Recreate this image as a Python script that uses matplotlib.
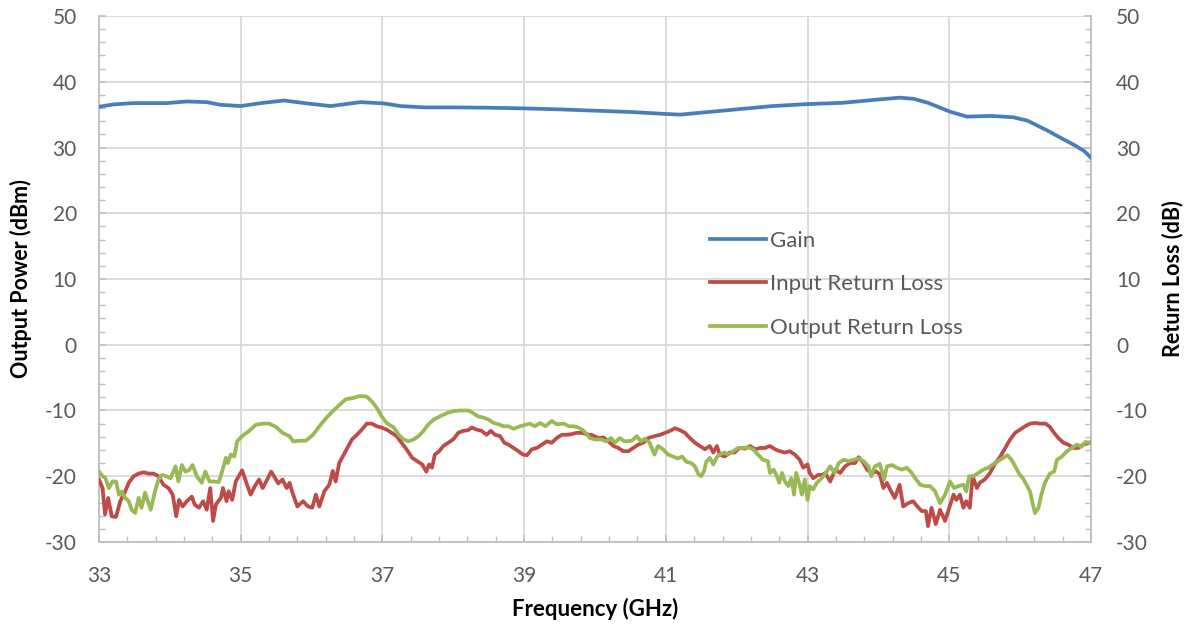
import matplotlib
matplotlib.use("Agg")
import matplotlib.pyplot as plt
import numpy as np
from matplotlib.ticker import FixedLocator, MultipleLocator

plt.rcParams['font.family'] = ['Lato', 'DejaVu Sans']
plt.rcParams['axes.unicode_minus'] = False

# gain trace
gainFreq = [33.0, 33.2, 33.48, 33.95, 34.24, 34.52, 34.71, 35.0, 35.28, 35.61, 35.94, 36.27,
            36.69, 37.02, 37.26, 37.6, 38.0, 38.5, 39.0, 39.5, 40.0, 40.5, 41.0, 41.2, 41.5,
            42.0, 42.5, 43.0, 43.5, 44.0, 44.3, 44.5, 44.7, 45.01, 45.25, 45.6, 45.9, 46.1,
            46.37, 46.55, 46.76, 46.9, 47.0]
gain = [36.2, 36.55, 36.75, 36.75, 37.0, 36.9, 36.5, 36.3, 36.75, 37.15, 36.7, 36.3,
        36.9, 36.7, 36.3, 36.1, 36.1, 36.05, 35.95, 35.8, 35.6, 35.4, 35.1, 35.0, 35.3,
        35.8, 36.3, 36.6, 36.8, 37.3, 37.58, 37.4, 36.8, 35.45, 34.7, 34.8, 34.6, 34.1,
        32.66, 31.6, 30.4, 29.5, 28.45]

# input return loss
irlFreq = [33.0, 33.05, 33.085, 33.13, 33.18, 33.24, 33.30, 33.37, 33.42, 33.49, 33.56, 33.63,
           33.70, 33.77, 33.84, 33.91, 33.98, 34.04, 34.09, 34.13, 34.18, 34.24, 34.31, 34.35,
           34.41, 34.47, 34.52, 34.57, 34.61, 34.65, 34.72, 34.75, 34.80, 34.83, 34.88, 34.93,
           35.02, 35.08, 35.14, 35.20, 35.26, 35.31, 35.35, 35.43, 35.47, 35.53, 35.59, 35.65,
           35.69, 35.73, 35.80, 35.88, 35.95, 36.01, 36.06, 36.11, 36.18, 36.25, 36.30, 36.34,
           36.39, 36.44, 36.48,
           36.57, 36.64, 36.71, 36.78, 36.85, 36.92, 36.99, 37.06, 37.13, 37.20, 37.27, 37.34,
           37.42, 37.49, 37.56, 37.62, 37.66, 37.70, 37.74, 37.80, 37.86, 37.93, 38.00, 38.07,
           38.14, 38.21, 38.26, 38.33, 38.40, 38.47, 38.53, 38.59, 38.66, 38.72, 38.78, 38.85,
           38.92, 38.98, 39.04, 39.11, 39.18, 39.25, 39.32, 39.39, 39.46, 39.53, 39.60, 39.67,
           39.74, 39.81, 39.91,
           39.95, 40.05, 40.12, 40.19, 40.26, 40.33, 40.40, 40.47, 40.54, 40.61, 40.68, 40.75,
           40.84, 40.92, 40.99, 41.06, 41.13, 41.20, 41.27, 41.34, 41.41, 41.48, 41.55, 41.62,
           41.67, 41.72, 41.76, 41.83, 41.90, 41.97, 42.04, 42.12, 42.19, 42.26, 42.33, 42.40,
           42.47, 42.54, 42.61, 42.68, 42.75, 42.82, 42.89, 42.94, 43.0, 43.03, 43.08, 43.15,
           43.21, 43.25, 43.32,
           43.39, 43.46, 43.53, 43.60, 43.67, 43.72, 43.79, 43.84, 43.90, 43.97, 44.02, 44.07,
           44.12, 44.17, 44.23, 44.30, 44.35, 44.42, 44.49, 44.55, 44.61, 44.67, 44.70, 44.75,
           44.81, 44.87, 44.94, 45.0, 45.06, 45.10, 45.15, 45.20, 45.24, 45.29, 45.33, 45.39,
           45.43, 45.50, 45.57, 45.64, 45.72, 45.79, 45.86, 45.93, 46.00, 46.07, 46.14, 46.21,
           46.28, 46.36, 46.42, 46.48, 46.54, 46.61, 46.68, 46.75, 46.82, 46.89, 46.98]
irl = [-20.5, -21.8, -25.8, -23.3, -26.1, -26.2, -23.8, -22.3, -21.0, -20.0, -19.6, -19.4,
       -19.6, -19.6, -20.0, -21.3, -21.8, -22.8, -26.1, -23.6, -24.6, -23.8, -23.1, -24.3,
       -24.8, -23.8, -25.1, -21.8, -26.8, -24.3, -23.3, -21.8, -23.8, -22.3, -23.6, -20.8,
       -19.1, -21.0, -22.8, -21.5, -20.5, -21.8, -21.0, -19.3, -20.0, -21.1, -20.5, -21.8,
       -21.0, -22.5, -24.6, -23.8, -24.6, -24.8, -22.8, -24.6, -22.3, -21.3, -19.2, -20.8,
       -18.0, -17.0, -16.2,
       -14.4, -13.7, -12.9, -12.0, -12.0, -12.4, -12.6, -12.9, -13.4, -13.9, -14.9, -15.9,
       -17.2, -17.7, -18.2, -19.3, -18.2, -18.7, -16.7, -16.2, -15.4, -14.9, -14.4, -13.4,
       -13.1, -13.0, -12.6, -12.9, -13.1, -13.7, -13.1, -13.7, -13.9, -14.9, -15.2, -15.7,
       -16.2, -16.7, -16.8, -15.9, -15.7, -15.2, -14.7, -14.9, -14.2, -13.7, -13.7, -13.6,
       -13.4, -13.4, -13.7,
       -13.7, -14.2, -14.1, -14.7, -15.4, -15.7, -16.2, -16.2, -15.7, -15.2, -14.9, -14.2,
       -13.9, -13.7, -13.4, -13.1, -12.7, -13.0, -13.4, -14.2, -14.9, -15.4, -15.9, -15.4,
       -16.4, -15.4, -16.7, -17.0, -16.4, -16.4, -15.7, -15.8, -15.4, -15.9, -15.7, -15.7,
       -15.4, -15.9, -16.2, -16.4, -16.2, -16.7, -17.5, -18.7, -18.2, -19.5, -20.3, -19.8,
       -19.8, -19.5, -20.8,
       -19.0, -19.5, -18.5, -18.0, -18.0, -17.1, -18.0, -19.0, -19.5, -19.3, -19.7, -21.8,
       -21.0, -22.1, -23.3, -21.3, -24.6, -24.1, -23.8, -24.6, -25.3, -25.3, -27.6, -24.8,
       -27.3, -25.1, -26.8, -24.8, -22.8, -23.6, -22.8, -24.8, -23.8, -24.8, -20.0, -21.8,
       -21.0, -20.5, -19.6, -18.2, -17.0, -15.7, -14.4, -13.4, -12.9, -12.4, -12.0, -11.9,
       -12.0, -12.0, -12.5, -13.4, -14.2, -14.9, -15.2, -15.7, -15.7, -15.2, -14.9]

# output return loss
orlFreq = [33.0, 33.05, 33.09, 33.14, 33.19, 33.24, 33.28, 33.32, 33.37, 33.42, 33.46, 33.51,
           33.56, 33.60, 33.65, 33.70, 33.73, 33.79, 33.84, 33.89, 33.95, 34.01, 34.08, 34.12,
           34.17, 34.22, 34.27, 34.32, 34.38, 34.45, 34.50, 34.56, 34.62, 34.69, 34.74, 34.79,
           34.82, 34.86, 34.91, 34.95, 35.02, 35.12, 35.21, 35.31, 35.40, 35.50, 35.59, 35.69,
           35.74, 35.83, 35.92, 36.02, 36.11, 36.21, 36.30, 36.40, 36.48,
           36.59, 36.68, 36.78, 36.85, 36.92, 36.99, 37.06, 37.16, 37.23, 37.30, 37.37, 37.44,
           37.51, 37.58, 37.65, 37.72, 37.81, 37.91, 38.00, 38.10, 38.21, 38.28, 38.35, 38.43,
           38.50, 38.57, 38.64, 38.71, 38.78, 38.85, 38.94, 39.01, 39.08, 39.15, 39.23, 39.30,
           39.39, 39.46, 39.56, 39.63, 39.70, 39.77, 39.84,
           39.93, 40.0, 40.09, 40.16, 40.23, 40.28, 40.35, 40.42, 40.52, 40.59, 40.65, 40.70,
           40.77, 40.84, 40.89, 40.96, 41.03, 41.10, 41.17, 41.23, 41.29, 41.36, 41.41, 41.46,
           41.50, 41.54, 41.57, 41.62, 41.67, 41.72, 41.76, 41.83, 41.88, 41.95, 42.02, 42.09,
           42.16, 42.23, 42.30, 42.37, 42.44, 42.47, 42.52, 42.56, 42.60, 42.64, 42.68, 42.73,
           42.77, 42.81, 42.84, 42.89, 42.92, 42.96, 43.0, 43.03, 43.08, 43.13, 43.20, 43.27,
           43.32, 43.38, 43.44, 43.51, 43.58, 43.65, 43.72, 43.79, 43.86, 43.90, 43.95, 44.02,
           44.08, 44.12, 44.19, 44.26, 44.33, 44.40, 44.47, 44.52, 44.59, 44.66, 44.73, 44.80,
           44.87, 44.94, 45.01, 45.07, 45.13, 45.20, 45.24, 45.28, 45.34, 45.41, 45.48, 45.55,
           45.62, 45.69, 45.76, 45.82, 45.88, 45.93, 45.99, 46.04, 46.09, 46.14, 46.18, 46.21,
           46.26, 46.30, 46.35, 46.42, 46.48, 46.52, 46.59, 46.66, 46.73, 46.80, 46.87, 46.92,
           46.98]
orl = [-19.3, -20.0, -20.3, -21.8, -20.8, -20.8, -22.8, -22.3, -23.3, -23.8, -25.1, -25.6,
       -23.3, -24.8, -22.5, -24.1, -25.1, -22.3, -20.5, -19.8, -20.0, -20.3, -18.5, -20.8,
       -18.3, -19.3, -19.1, -18.3, -20.0, -21.0, -19.3, -20.8, -20.8, -20.9, -19.2, -17.2,
       -18.0, -16.7, -17.0, -14.7, -13.9, -13.1, -12.2, -12.0, -12.0, -12.5, -13.4, -13.9,
       -14.7, -14.6, -14.6, -13.7, -12.4, -11.1, -10.1, -9.1, -8.3,
       -8.1, -7.8, -7.9, -8.6, -9.6, -10.9, -11.9, -12.6, -13.7, -14.4, -14.7, -14.4,
       -13.9, -13.1, -12.1, -11.4, -10.9, -10.4, -10.1, -10.0, -10.0, -10.4, -10.9, -11.1,
       -11.4, -11.9, -12.1, -12.4, -12.4, -12.8, -12.4, -12.2, -12.0, -12.4, -11.9, -12.4,
       -11.6, -12.1, -12.0, -12.4, -12.4, -12.6, -13.1,
       -14.2, -14.4, -14.4, -14.7, -14.2, -14.9, -14.2, -14.7, -14.6, -13.9, -14.7, -14.3,
       -14.9, -16.7, -15.4, -15.9, -16.7, -17.0, -17.3, -17.0, -17.8, -18.0, -18.5, -19.7,
       -20.0, -19.2, -17.8, -17.2, -18.2, -17.1, -16.7, -16.4, -16.7, -16.2, -15.7, -15.7,
       -15.6, -15.9, -16.7, -17.5, -17.7, -19.5, -19.0, -19.8, -21.0, -19.5, -20.8, -21.5,
       -20.3, -22.8, -19.5, -21.3, -22.8, -20.5, -23.6, -21.5, -22.0, -21.0, -20.3, -19.3,
       -18.5, -19.5, -18.0, -17.5, -17.7, -17.5, -17.3, -17.7, -18.5, -20.0, -18.5, -18.1,
       -20.5, -18.5, -18.3, -18.7, -19.0, -18.7, -19.5, -20.3, -21.3, -21.5, -21.5, -22.3,
       -24.1, -22.8, -20.8, -21.8, -21.5, -21.3, -22.3, -20.0, -20.0, -19.5, -19.0, -18.7,
       -18.2, -17.7, -17.2, -16.8, -17.5, -18.5, -19.7, -20.3, -21.3, -22.3, -24.3, -25.6,
       -24.8, -22.8, -21.0, -19.6, -19.3, -17.5, -17.0, -16.2, -15.7, -15.2, -15.5, -14.8,
       -14.9]

gridColor = "#D9D9D9"
tickColor = "#595959"

fig = plt.figure(figsize=(11.87, 6.28), dpi=100)
ax = fig.add_axes([0.0834, 0.137, 0.8357, 0.8375])

ax.plot(gainFreq, gain, color="#4A7EBB", lw=2.7, label="Gain", zorder=3)
ax.plot(irlFreq, irl, color="#BE4B48", lw=2.7, label="Input Return Loss", zorder=3)
ax.plot(orlFreq, orl, color="#98B954", lw=2.7, label="Output Return Loss", zorder=4)

ax.set_xlim(33, 47)
ax.set_ylim(-30, 50)
ax.xaxis.set_major_locator(FixedLocator(np.arange(33, 47.5, 2)))
ax.xaxis.set_minor_locator(FixedLocator(np.arange(33, 47.01, 0.4)))
ax.yaxis.set_major_locator(MultipleLocator(10))
ax.yaxis.set_minor_locator(MultipleLocator(2))
ax.grid(True, which="major", color=gridColor, lw=1.3, zorder=0)
ax.set_axisbelow(True)

for side in ["left", "right", "bottom"]:
    ax.spines[side].set_color("#BFBFBF")
    ax.spines[side].set_linewidth(1.3)
ax.spines["top"].set_visible(False)

ax.tick_params(which="both", direction="in", color="#BFBFBF", labelcolor=tickColor,
               labelsize=15)
ax.tick_params(which="major", length=5, width=1.2)
ax.tick_params(which="minor", length=4, width=1.0)
ax.tick_params(axis="y", pad=16)
ax.tick_params(axis="x", pad=17)

ax2 = ax.twinx()
ax2.set_ylim(-30, 50)
ax2.yaxis.set_major_locator(MultipleLocator(10))
ax2.yaxis.set_minor_locator(MultipleLocator(2))
for side in ["left", "right", "bottom", "top"]:
    ax2.spines[side].set_visible(False)
ax2.tick_params(which="both", direction="in", color="#BFBFBF", labelcolor=tickColor,
                labelsize=15, pad=18)
ax2.tick_params(which="major", length=5, width=1.2)
ax2.tick_params(which="minor", length=4, width=1.0)

ax.set_xlabel("Frequency (GHz)", fontsize=16, fontweight="bold", labelpad=9)
ax.set_ylabel("Output Power (dBm)", fontsize=15.5, fontweight="bold", labelpad=9)
ax2.set_ylabel("Return Loss (dB)", fontsize=15.5, fontweight="bold", labelpad=10)

ax.legend(loc="upper left", bbox_to_anchor=(0.589, 0.65), bbox_transform=fig.transFigure,
          frameon=False, fontsize=16, handlelength=2.5, handletextpad=0.2,
          labelspacing=1.05, borderpad=0, labelcolor=tickColor)

fig.savefig("out.png", dpi=100)
